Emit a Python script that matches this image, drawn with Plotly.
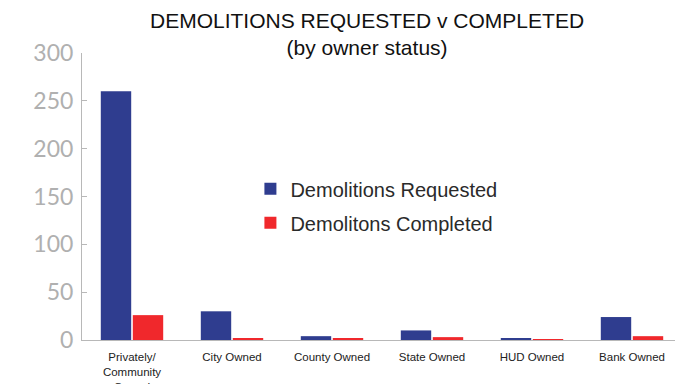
import plotly.graph_objects as go

categories = ["Privately/<br>Community<br>Owned", "City Owned", "County Owned",
              "State Owned", "HUD Owned", "Bank Owned"]
requested = [260, 30, 4, 10, 2, 24]
completed = [26, 2, 2, 3, 1, 4]
y_ticks = [0, 50, 100, 150, 200, 250, 300]

fig = go.Figure()
fig.add_trace(go.Bar(x=categories, y=requested, name="Demolitions Requested",
                     legendgroup="req",
                     marker=dict(color="#2f3d8f", line=dict(width=0))))
fig.add_trace(go.Bar(x=categories, y=completed, name="Demolitons Completed",
                     legendgroup="comp",
                     marker=dict(color="#f0282c", line=dict(width=0))))

fig.update_layout(
    width=685, height=384,
    margin=dict(l=82, r=10, t=53, b=44, autoexpand=False),
    paper_bgcolor="white", plot_bgcolor="white",
    barmode="group", bargap=0.36, bargroupgap=0.05,
    legend=dict(
        x=0.284, y=0.595, xanchor="left", yanchor="top",
        font=dict(family="Liberation Sans, Arial", size=20, color="#2a2a2a"),
        bgcolor="rgba(0,0,0,0)", itemwidth=30, tracegroupgap=5,
    ),
    showlegend=True,
    annotations=[dict(
        text="DEMOLITIONS REQUESTED v COMPLETED<br>(by owner status)",
        xref="paper", yref="paper", x=0.48, y=1.16,
        xanchor="center", yanchor="top", showarrow=False,
        font=dict(family="Liberation Sans, Arial", size=21, color="#111111"),
    )],
)
fig.update_xaxes(
    range=[-0.5, 5.43], showline=True, linecolor="#b8b8b8", linewidth=1,
    ticks="", automargin=False, ticklabelstandoff=6,
    tickfont=dict(family="Liberation Sans, Arial", size=11.5, color="#222"),
    showgrid=False,
)
fig.update_yaxes(
    range=[0, 300], tickvals=y_ticks, showline=True, linecolor="#b8b8b8", linewidth=1,
    ticks="inside", ticklen=5, tickcolor="#b8b8b8", showgrid=False, zeroline=False,
    automargin=False, ticklabelstandoff=3,
    tickfont=dict(family="Lato, Liberation Sans", size=23, color="#b0b0b0"),
)
fig.write_html("out.html")
